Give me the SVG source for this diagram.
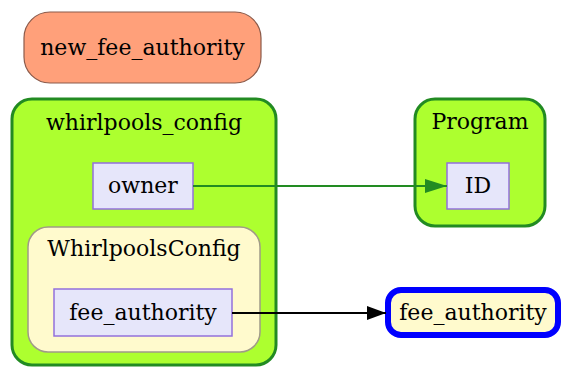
<svg xmlns="http://www.w3.org/2000/svg" width="565" height="367" viewBox="0 0 565 367">
  <defs>
    <marker id="arrow-green" viewBox="0 0 22 14" refX="22" refY="7" markerWidth="22" markerHeight="14" markerUnits="userSpaceOnUse" orient="auto">
      <path d="M0,0 L22,7 L0,14 Z" fill="#228b22"/>
    </marker>
    <marker id="arrow-black" viewBox="0 0 19 14" refX="19" refY="7" markerWidth="19" markerHeight="14" markerUnits="userSpaceOnUse" orient="auto">
      <path d="M0,0 L19,7 L0,14 Z" fill="#000000"/>
    </marker>
  </defs>
  <style>
    text { font-family: "DejaVu Serif", serif; font-size: 22px; fill: #000; text-anchor: middle; }
    .cluster-outer { fill: #adff2f; stroke: #228b22; stroke-width: 3; }
    .cluster-inner { fill: #fffacd; stroke: #a09a88; stroke-width: 1.5; }
    .field { fill: #e6e6fa; stroke: #9370db; stroke-width: 1.5; }
    .account { fill: #ffa07a; stroke: #8b5a4a; stroke-width: 1.2; }
    .target { fill: #fffacd; stroke: #0000ff; stroke-width: 6; }
    .edge { fill: none; stroke-width: 2; }
  </style>

  <rect width="565" height="367" fill="#ffffff"/>

  <g id="new_fee_authority">
    <rect class="account" x="24" y="12" width="237" height="71" rx="26" ry="26"/>
    <text x="142.5" y="55">new_fee_authority</text>
  </g>

  <g id="whirlpools_config">
    <rect class="cluster-outer" x="12" y="99" width="264" height="266" rx="20" ry="20"/>
    <text x="144" y="130">whirlpools_config</text>
    <g id="whirlpools_config_owner">
      <rect class="field" x="93" y="163" width="100" height="46"/>
      <text x="143" y="193">owner</text>
    </g>
    <g id="WhirlpoolsConfig">
      <rect class="cluster-inner" x="28" y="227" width="232" height="125" rx="20" ry="20"/>
      <text x="144" y="256">WhirlpoolsConfig</text>
      <g id="whirlpools_config_fee_authority">
        <rect class="field" x="54" y="289" width="178" height="47"/>
        <text x="143" y="320">fee_authority</text>
      </g>
    </g>
  </g>

  <g id="Program">
    <rect class="cluster-outer" x="415" y="99" width="130" height="127" rx="20" ry="20"/>
    <text x="480" y="129">Program</text>
    <g id="Program_ID">
      <rect class="field" x="447" y="163" width="62" height="46"/>
      <text x="478" y="193">ID</text>
    </g>
  </g>

  <g id="fee_authority">
    <rect class="target" x="388" y="290" width="170" height="45" rx="13" ry="13"/>
    <text x="473" y="320">fee_authority</text>
  </g>

  <g id="connectors">
    <path class="edge" d="M193,186 L447,186" stroke="#228b22" marker-end="url(#arrow-green)"/>
    <path class="edge" d="M232,313 L386,313" stroke="#000000" marker-end="url(#arrow-black)"/>
  </g>
</svg>
